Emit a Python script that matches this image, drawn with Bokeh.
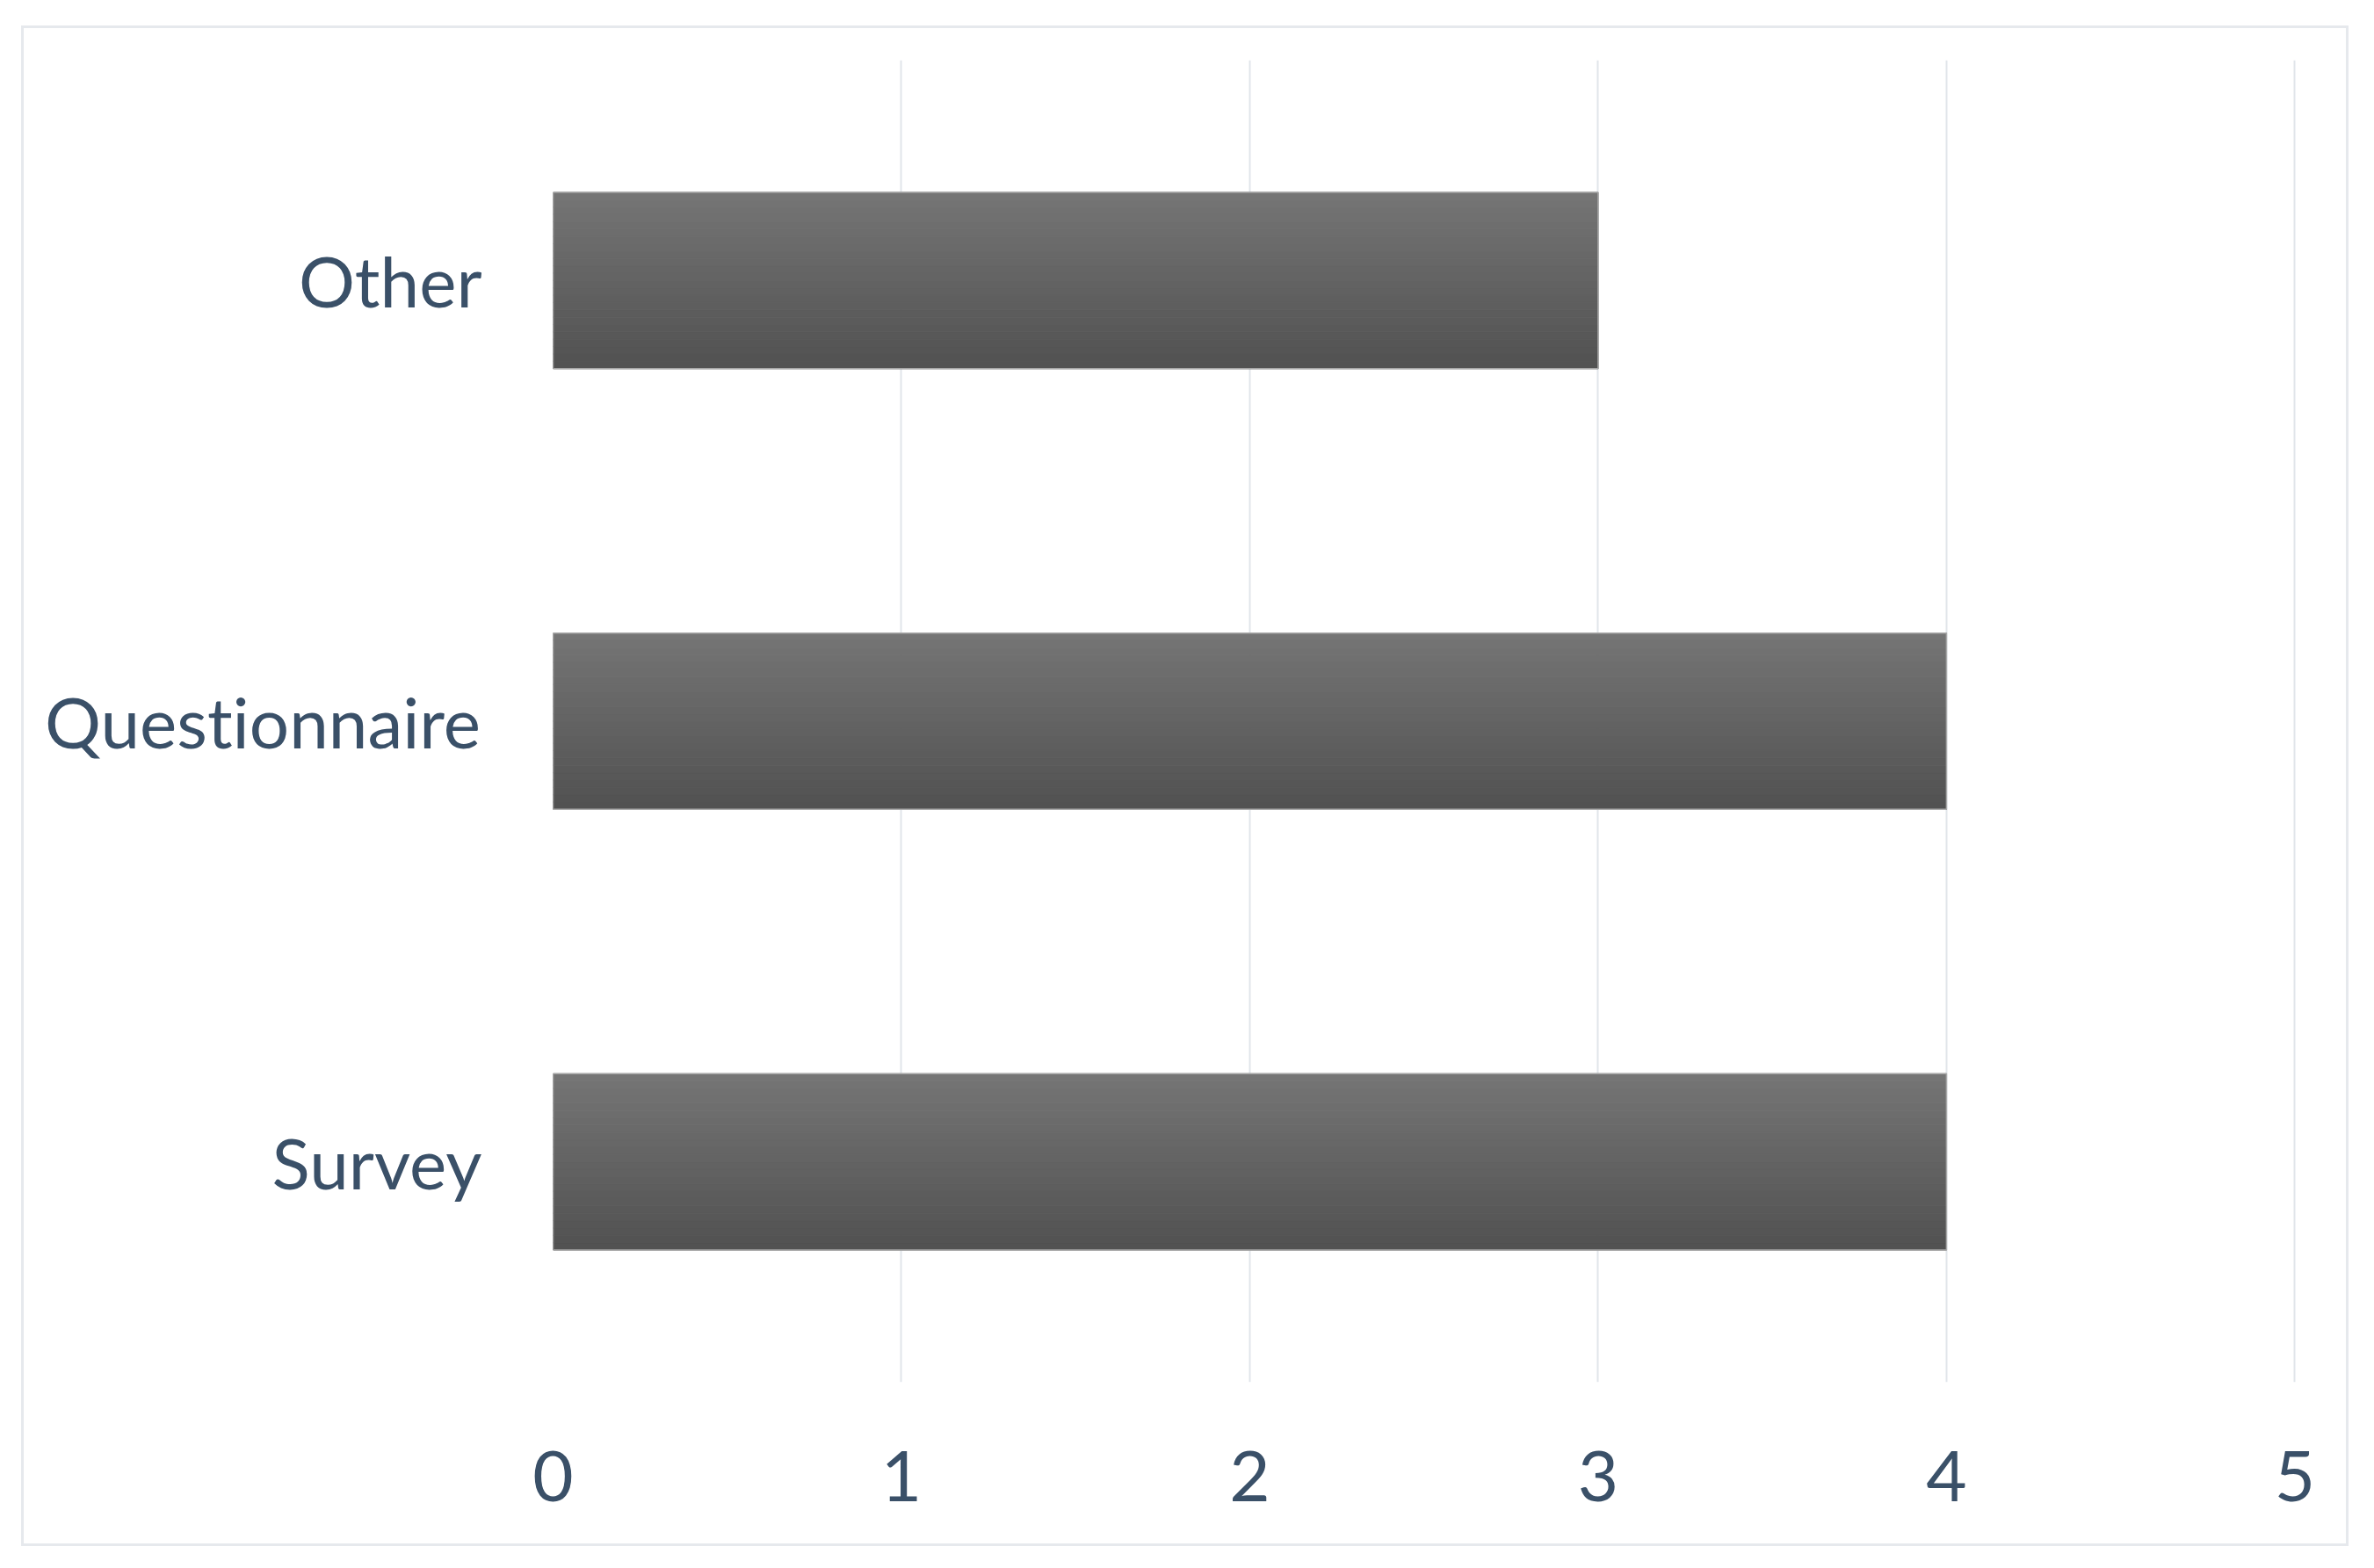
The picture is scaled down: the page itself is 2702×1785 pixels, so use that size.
from bokeh.plotting import figure
from bokeh.models import FactorRange, Range1d, FixedTicker
from bokeh.transform import dodge
from bokeh.embed import file_html
from bokeh.resources import INLINE

categories = ["Survey", "Questionnaire", "Other"]
counts = [4, 4, 3]
x_ticks = [0, 1, 2, 3, 4, 5]

bar_h = 0.4
n_strips = 24
top_rgb = (0x75, 0x75, 0x75)
bot_rgb = (0x52, 0x52, 0x52)

p = figure(y_range=FactorRange(factors=categories, range_padding=0),
           x_range=Range1d(0, 5.004),
           width=2649, height=1731,
           output_backend="svg", toolbar_location=None, tools="")
p.margin = (29, 0, 0, 24)
p.styles = {"border": "3px solid #e6e9ed",
            "font-variant-ligatures": "none",
            "font-feature-settings": '"liga" 0'}

p.min_border_left = 602
p.min_border_right = 63
p.min_border_top = 36
p.min_border_bottom = 190
p.outline_line_color = None
p.background_fill_color = "white"
p.border_fill_color = "white"

# gradient-looking bars made of thin strips
step = bar_h / n_strips
for i in range(n_strips):
    t = i / (n_strips - 1)
    r = int(bot_rgb[0] + (top_rgb[0] - bot_rgb[0]) * t)
    col = "#%02x%02x%02x" % (r, r, r)
    off = -bar_h / 2 + step / 2 + i * step
    p.hbar(y=dodge("cat", off, range=p.y_range), left=0, right="val", height=step,
           fill_color=col, line_color=col, line_width=1,
           source={"cat": categories, "val": counts})
p.hbar(y=categories, left=0, right=counts, height=bar_h,
       fill_color=None, line_color="#a8a8a8", line_width=1.5)

p.xgrid.grid_line_color = "#e1e5ea"
p.xgrid.grid_line_width = 2
p.ygrid.grid_line_color = None
p.xaxis.ticker = FixedTicker(ticks=x_ticks)

for ax in (p.xaxis[0], p.yaxis[0]):
    ax.axis_line_color = None
    ax.major_tick_line_color = None
    ax.minor_tick_line_color = None
    ax.major_label_text_font = "Lato"
    ax.major_label_text_font_size = "80px"
    ax.major_label_text_color = "#3a5068"

p.xaxis.major_label_standoff = 72
p.yaxis.major_label_standoff = 75

open("out.html", "w").write(file_html(p, INLINE))
